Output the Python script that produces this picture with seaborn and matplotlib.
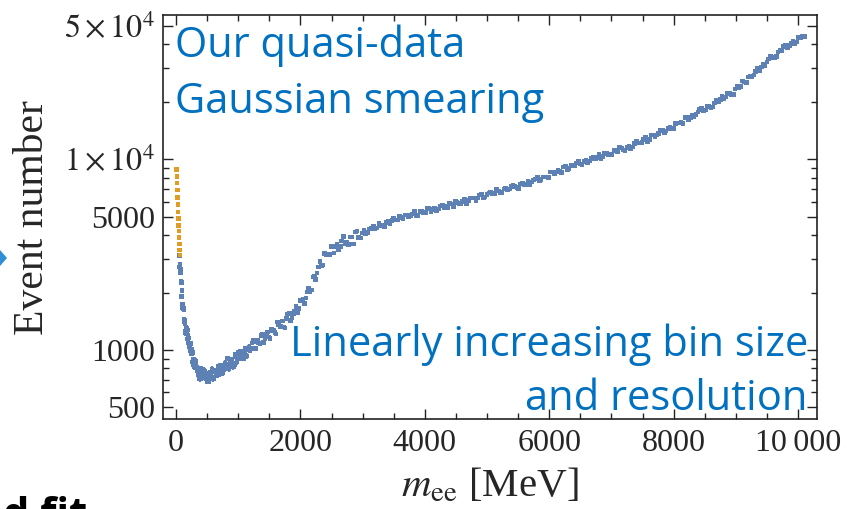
import numpy as np
import pandas as pd
import matplotlib
matplotlib.use("Agg")
import matplotlib.pyplot as plt
import seaborn as sns
from matplotlib.ticker import NullFormatter
from matplotlib.patches import Polygon

# ---- quasi-data: bin centres (MeV) and event counts ----
# lowest bins (highlighted)
mass_peak = [10, 14, 18, 22, 26, 30, 34, 38, 42, 46, 50, 54, 58, 62]
events_peak = [8870, 8100, 7500, 6900, 6300, 5800, 5300, 4900, 4500, 4200,
               3900, 3600, 3350, 3150]

# low-mass continuum
mass_low = [55, 60, 65, 70, 75, 80, 85, 90, 95, 100, 110, 120, 130, 140, 150,
            160, 170, 180, 190, 200, 215, 230, 245, 260, 275, 290, 305, 320,
            340, 360, 380, 400, 420, 440, 460, 480, 500, 520, 540, 560, 580,
            600, 625, 650, 675, 700, 725, 750, 775, 800, 830, 860, 890, 920,
            950, 980, 1010, 1040, 1070, 1100, 1135, 1170, 1205, 1240, 1275,
            1310, 1350, 1390, 1430, 1470, 1510, 1550, 1590, 1630, 1670, 1710,
            1750, 1795, 1840, 1885, 1930, 1975, 2020, 2065, 2110, 2155, 2200,
            2245, 2290, 2340, 2390, 2440, 2490, 2540, 2590, 2640, 2690, 2745,
            2800, 2855, 2910, 2965]
events_low = [3135, 2726, 2822, 2541, 2655, 2305, 2266, 1906, 2046, 1738, 1680,
              1651, 1445, 1431, 1260, 1318, 1212, 1274, 1098, 1154, 1038, 1081,
              960, 972, 837, 873, 810, 876, 783, 801, 708, 800, 714, 742, 770,
              711, 741, 686, 753, 723, 793, 710, 773, 737, 816, 771, 831, 757,
              827, 800, 901, 839, 892, 814, 947, 867, 924, 982, 926, 985, 929,
              1037, 1012, 1126, 1019, 1121, 1079, 1205, 1146, 1244, 1147, 1267,
              1239, 1405, 1320, 1416, 1306, 1542, 1433, 1555, 1693, 1649, 1817,
              1758, 2019, 2029, 2419, 2349, 2730, 2765, 3212, 3152, 3480, 3224,
              3573, 3482, 3924, 3674, 3914, 3589, 4198, 3868]
mass_low_b = [105, 115, 125, 135, 145, 155, 165, 175, 185, 195, 207, 222, 237,
              252, 267, 282, 297, 312, 330, 350, 370, 390, 410, 430, 450, 470,
              490, 510, 530, 550, 570, 590, 612, 637, 662, 687, 712, 737, 762,
              787, 815, 845, 875, 905, 935, 965, 995, 1025, 1055, 1085, 1117,
              1152, 1187, 1222, 1257, 1292, 1330, 1370, 1410, 1450, 1490, 1530,
              1570, 1610, 1650, 1690, 1730, 1772, 1817, 1862, 1907, 1952, 1997,
              2042, 2087, 2132, 2177, 2222, 2267, 2315, 2365, 2415, 2465, 2515,
              2565, 2615, 2665, 2717, 2772, 2827, 2882, 2937, 2992]
events_low_b = [1663, 1663, 1627, 1407, 1375, 1231, 1305, 1219, 1144, 1192,
                1053, 1076, 987, 1009, 865, 893, 822, 858, 805, 739, 794, 745,
                713, 760, 783, 713, 731, 686, 759, 739, 721, 777, 716, 778, 757,
                823, 750, 816, 786, 853, 831, 794, 885, 856, 842, 918, 971, 904,
                947, 904, 1018, 1007, 997, 1089, 1015, 1109, 1089, 1191, 1093,
                1200, 1169, 1283, 1262, 1214, 1363, 1330, 1323, 1462, 1566, 1481,
                1587, 1560, 1815, 1848, 1877, 2111, 2064, 2426, 2529, 2915, 2793,
                3177, 3167, 3515, 3475, 3342, 3729, 3616, 3577, 3917, 4155, 3885,
                4100]

# high-mass continuum
mass_high = [3020, 3080, 3140, 3200, 3260, 3320, 3380, 3440, 3500, 3560, 3620,
             3680, 3740, 3800, 3860, 3920, 3980, 4040, 4100, 4160, 4220, 4280,
             4340, 4400, 4460, 4520, 4580, 4640, 4700, 4760, 4820, 4880, 4940,
             5000, 5060, 5120, 5180, 5240, 5300, 5360, 5420, 5480, 5540, 5600,
             5660, 5720, 5780, 5840, 5900, 5960, 6020, 6080, 6140, 6200, 6260,
             6320, 6380, 6440, 6500, 6560, 6620, 6680, 6740, 6800, 6860, 6920,
             6980, 7040, 7100, 7160, 7220, 7280, 7340, 7400, 7460, 7520, 7580,
             7640, 7700, 7760, 7820, 7880, 7940, 8000, 8060, 8120, 8180, 8240,
             8300, 8360, 8420, 8480, 8540, 8600, 8660, 8720, 8780, 8840, 8900,
             8960, 9020, 9080, 9140, 9200, 9260, 9320, 9380, 9440, 9500, 9560,
             9620, 9680, 9740, 9800, 9860, 9920, 9980, 10040, 10100]
events_high = [4220, 4119, 4326, 4327, 4594, 4513, 4675, 4569, 4915, 4802, 4950,
               5100, 5009, 5161, 5065, 5313, 5278, 5536, 5337, 5561, 5493, 5760,
               5656, 5854, 5675, 5920, 5884, 6206, 6063, 6264, 6087, 6513, 6324,
               6520, 6724, 6610, 6821, 6705, 7038, 6998, 7344, 7090, 7408, 7336,
               7711, 7594, 7890, 7691, 8068, 8072, 8570, 8424, 8734, 8526, 9165,
               8941, 9250, 9559, 9426, 9748, 9614, 10130, 10109, 10650, 10311,
               10778, 10661, 11203, 11023, 11453, 11146, 11660, 11609, 12360,
               12186, 12680, 12416, 13394, 13120, 13650, 14191, 14049, 14647,
               14542, 15484, 15606, 16583, 16203, 17103, 17122, 18186, 18091,
               19037, 18739, 19768, 19958, 21373, 21222, 22213, 21912, 24064,
               24010, 25450, 26977, 27269, 28872, 29182, 31574, 32305, 34608,
               34272, 36533, 36951, 39526, 39561, 41738, 41187, 43660, 44065]
mass_high_b = [3050, 3110, 3170, 3230, 3290, 3350, 3410, 3470, 3530, 3590, 3650,
               3710, 3770, 3830, 3890, 3950, 4010, 4070, 4130, 4190, 4250, 4310,
               4370, 4430, 4490, 4550, 4610, 4670, 4730, 4790, 4850, 4910, 4970,
               5030, 5090, 5150, 5210, 5270, 5330, 5390, 5450, 5510, 5570, 5630,
               5690, 5750, 5810, 5870, 5930, 5990, 6050, 6110, 6170, 6230, 6290,
               6350, 6410, 6470, 6530, 6590, 6650, 6710, 6770, 6830, 6890, 6950,
               7010, 7070, 7130, 7190, 7250, 7310, 7370, 7430, 7490, 7550, 7610,
               7670, 7730, 7790, 7850, 7910, 7970, 8030, 8090, 8150, 8210, 8270,
               8330, 8390, 8450, 8510, 8570, 8630, 8690, 8750, 8810, 8870, 8930,
               8990, 9050, 9110, 9170, 9230, 9290, 9350, 9410, 9470, 9530, 9590,
               9650, 9710, 9770, 9830, 9890, 9950, 10010, 10070]
events_high_b = [4078, 4303, 4470, 4354, 4500, 4443, 4758, 4779, 4797, 5043,
                 4880, 5116, 5075, 5315, 5090, 5333, 5263, 5513, 5465, 5362, 5677,
                 5601, 5577, 5841, 6026, 5831, 5990, 5881, 6268, 6264, 6255, 6560,
                 6350, 6661, 6615, 6937, 6654, 6982, 6893, 7227, 7175, 7052, 7484,
                 7403, 7395, 7772, 8049, 7831, 8095, 7998, 8566, 8596, 8623, 9092,
                 8847, 9316, 9273, 9749, 9375, 9868, 9781, 10292, 10255, 10107,
                 10734, 10613, 10593, 11125, 11505, 11165, 11505, 11320, 12113,
                 12191, 12271, 12982, 12681, 13418, 13437, 14209, 13728, 14534,
                 14509, 15402, 15500, 15423, 16545, 16533, 16687, 17720, 18519,
                 18173, 18950, 18842, 20324, 20577, 20840, 22191, 21825, 23391,
                 23855, 25699, 25326, 27321, 27728, 29886, 30550, 30895, 33546,
                 33908, 34613, 37118, 39140, 38612, 40400, 40352, 43656, 44220]

# ---- axis ticks ----
x_major = [0, 2000, 4000, 6000, 8000, 10000]
x_major_labels = ["0", "2000", "4000", "6000", "8000", "10\u2009000"]
x_minor = [500, 1000, 1500, 2500, 3000, 3500, 4500, 5000, 5500, 6500, 7000,
           7500, 8500, 9000, 9500]
y_major = [500, 1000, 5000, 10000, 50000]
y_major_labels = ["500", "1000", "5000", r"$1\times10^{4}$", r"$5\times10^{4}$"]
y_minor = [600, 700, 800, 900, 2000, 3000, 4000, 6000, 7000, 8000, 9000,
           20000, 30000, 40000]

BLUE = "#5E81B5"
ORANGE = "#E19C24"
TEXT_BLUE = "#0070C0"

sns.set_style("ticks")
plt.rcParams["font.family"] = ["Liberation Serif", "DejaVu Serif"]
plt.rcParams["mathtext.fontset"] = "stix"

data = pd.concat([
    pd.DataFrame({"mass": mass_low + mass_low_b + mass_high + mass_high_b,
                  "events": events_low + events_low_b + events_high
                  + events_high_b,
                  "set": "continuum"}),
    pd.DataFrame({"mass": mass_peak, "events": events_peak, "set": "peak"}),
], ignore_index=True).sort_values("mass", kind="stable")
palette = {"continuum": BLUE, "peak": ORANGE}

fig = plt.figure(figsize=(8.52, 5.09), dpi=100)
ax = fig.add_axes([0.1913, 0.1762, 0.7676, 0.7943])
ax.set_yscale("log")

# error bars: half bin width horizontally, Poisson uncertainty vertically
for name, grp in data.groupby("set"):
    centres = grp["mass"].to_numpy(dtype=float)
    half_width = np.gradient(centres) / 2
    ax.errorbar(centres, grp["events"], xerr=half_width,
                yerr=np.sqrt(grp["events"]), fmt="none",
                ecolor=palette[name], elinewidth=1.6, capsize=0, zorder=2)
sns.scatterplot(data=data, x="mass", y="events", hue="set", palette=palette,
                marker="s", s=11, linewidth=0, legend=False, ax=ax, zorder=3)

ax.set_xlim(-210, 10305)
ax.set_ylim(433, 57100)

ax.set_xticks(x_major, x_major_labels)
ax.set_xticks(x_minor, minor=True)
ax.set_yticks(y_major, y_major_labels)
ax.set_yticks(y_minor, minor=True)
ax.yaxis.set_minor_formatter(NullFormatter())

ax.tick_params(which="both", direction="in", top=True, right=True,
               color="#222222", width=1.0, labelsize=23)
ax.tick_params(which="major", length=7)
ax.tick_params(which="minor", length=4)
ax.tick_params(axis="x", which="major", pad=7)
ax.tick_params(axis="y", which="major", pad=6)
for side in ax.spines.values():
    side.set_color("#222222")
    side.set_linewidth(1.2)

ax.set_xlabel(r"$m_{\mathrm{ee}}$ [MeV]", fontsize=29.5)
ax.set_ylabel("Event number", fontsize=30)
ax.xaxis.set_label_coords(0.5, -0.118)
ax.yaxis.set_label_coords(-0.169, 0.5)

ann = dict(transform=ax.transAxes, color=TEXT_BLUE, family="Open Sans",
           fontsize=30, va="baseline")
ax.text(0.018, 0.896, "Our quasi-data", ha="left", **ann)
ax.text(0.018, 0.758, "Gaussian smearing", ha="left", **ann)
ax.text(0.986, 0.157, "Linearly increasing bin size", ha="right", **ann)
ax.text(0.986, 0.023, "and resolution", ha="right", **ann)

# pieces of the surrounding slide at the figure edges
fig.text(0.004, -0.035, "d fit", family="Open Sans", fontweight="bold",
         fontsize=30, color="black", va="baseline", ha="left")
fig.add_artist(Polygon([[0.0, 1 - 250 / 509], [7 / 852, 1 - 258 / 509],
                        [0.0, 1 - 266 / 509]], closed=True,
                       transform=fig.transFigure, color="#2F8FD5", lw=0))

fig.savefig("out.png", dpi=100)
